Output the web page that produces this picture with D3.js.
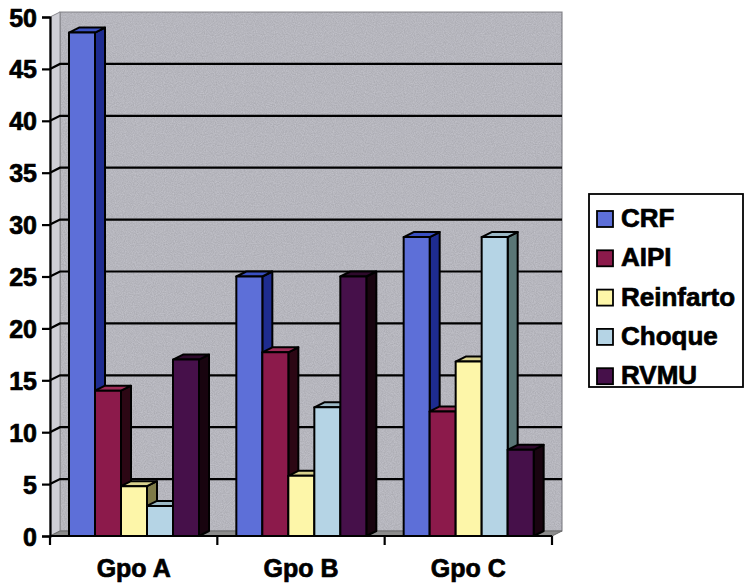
<!DOCTYPE html>
<html>
<head>
<meta charset="utf-8">
<script src="https://cdn.jsdelivr.net/npm/d3@7"></script>
<style>
  html, body { margin: 0; padding: 0; background: #ffffff; }
  svg { display: block; }
  text { font-family: "Liberation Sans", Arial, sans-serif; font-weight: bold; fill: #000; stroke: #000; stroke-width: 0.7px; }
</style>
</head>
<body>
<svg id="chart" width="746" height="586"></svg>
<script>
// Groups, series and values (percent)
const groups = ["Gpo A", "Gpo B", "Gpo C"];
const series = ["CRF", "AIPI", "Reinfarto", "Choque", "RVMU"];
const crf       = [48.5, 25, 28.8];
const aipi      = [14, 17.7, 12];
const reinfarto = [4.8, 5.8, 16.8];
const choque    = [2.9, 12.4, 28.8];
const rvmu      = [17, 25, 8.3];
const yTicks = [0, 5, 10, 15, 20, 25, 30, 35, 40, 45, 50];

const seriesValues = [crf, aipi, reinfarto, choque, rvmu];

// Face colours for each series: front, side, top
const palette = [
  { front: "#5d6fd8", side: "#1e2c90", top: "#3a50c2" },
  { front: "#8c1a4b", side: "#2c0714", top: "#9e2c58" },
  { front: "#fdf6a9", side: "#7e7a48", top: "#d9d28e" },
  { front: "#b5d4e5", side: "#5a7676", top: "#9cb9c6" },
  { front: "#46104a", side: "#18040f", top: "#2e0a2c" }
];

const svg = d3.select("#chart");

// Plot frame (front plane) and depth offset of the 3D box
const x0L = 50, x0R = 552, yBase = 536, yTop = 17;
const DX = 10, DY = -5;

const y = d3.scaleLinear().domain([0, 50]).range([yBase, yTop]);
const xg = d3.scaleBand().domain(groups).range([x0L, x0R]).paddingInner(0).paddingOuter(0);
const xs = d3.scaleBand().domain(series).range([19, 19 + 130]).paddingInner(0);

const line = d3.line();
const poly = pts => line(pts) + "Z";

// Grain texture used on the walls
const defs = svg.append("defs");
const grain = defs.append("filter").attr("id", "grain").attr("x", 0).attr("y", 0).attr("width", "100%").attr("height", "100%");
grain.append("feTurbulence").attr("type", "fractalNoise").attr("baseFrequency", 0.9).attr("numOctaves", 2).attr("seed", 3).attr("result", "n");
grain.append("feColorMatrix").attr("in", "n").attr("type", "matrix")
  .attr("values", "0 0 0 0 0  0 0 0 0 0  0 0 0 0 0  0 0 0 0.16 0");
grain.append("feComposite").attr("in2", "SourceGraphic").attr("operator", "in");

// Back wall
const backWall = poly([[x0L + DX, y(50) + DY], [x0R + DX, y(50) + DY], [x0R + DX, yBase + DY], [x0L + DX, yBase + DY]]);
svg.append("path").attr("d", backWall).attr("fill", "#c6c6ce").attr("stroke", "#8a8a90").attr("stroke-width", 1.2);
svg.append("path").attr("d", backWall).attr("fill", "#000").attr("filter", "url(#grain)");

// Left side wall
const sideWall = poly([[x0L, y(50)], [x0L + DX, y(50) + DY], [x0L + DX, yBase + DY], [x0L, yBase]]);
svg.append("path").attr("d", sideWall).attr("fill", "#cfcfd6").attr("stroke", "#8a8a90").attr("stroke-width", 1);

// Floor
svg.append("path")
  .attr("d", poly([[x0L, yBase], [x0R, yBase], [x0R + DX, yBase + DY], [x0L + DX, yBase + DY]]))
  .attr("fill", "#8c8c8c").attr("stroke", "#6a6a6a").attr("stroke-width", 1);

// Gridlines on the back and side walls
const gridVals = yTicks.filter(v => v > 0 && v < 50);
svg.append("g").selectAll("path").data(gridVals).join("path")
  .attr("d", v => line([[x0L, y(v)], [x0L + DX, y(v) + DY], [x0R + DX, y(v) + DY]]))
  .attr("fill", "none").attr("stroke", "#000").attr("stroke-width", 2.2);

// Bars, drawn left to right so each front face covers its neighbour's side
const bars = [];
groups.forEach((g, gi) => {
  series.forEach((s, si) => {
    bars.push({ g, s, si, v: seriesValues[si][gi] });
  });
});

const barG = svg.append("g");
bars.forEach(b => {
  const x = xg(b.g) + xs(b.s);
  const w = xs.bandwidth();
  const t = y(b.v);
  const c = palette[b.si];
  const gb = barG.append("g").attr("stroke", "#000").attr("stroke-width", 2).attr("stroke-linejoin", "round");
  gb.append("path").attr("d", poly([[x + w, t], [x + w + DX, t + DY], [x + w + DX, yBase + DY], [x + w, yBase]])).attr("fill", c.side);
  gb.append("path").attr("d", poly([[x, t], [x + w, t], [x + w + DX, t + DY], [x + DX, t + DY]])).attr("fill", c.top);
  gb.append("path").attr("d", poly([[x, t], [x + w, t], [x + w, yBase], [x, yBase]])).attr("fill", c.front);
});

// Value axis
const yAxis = d3.axisLeft(y).tickValues(yTicks).tickSize(8).tickPadding(5);
const ya = svg.append("g").attr("transform", `translate(${x0L},0)`).call(yAxis);
ya.attr("font-family", null).attr("font-size", null);
ya.select(".domain").attr("stroke", "#000").attr("stroke-width", 2.2);
ya.selectAll(".tick line").attr("stroke", "#000").attr("stroke-width", 2.2);
ya.selectAll(".tick text").attr("font-size", 25).attr("fill", "#000").attr("dy", "0.36em");

// Category axis
const xa = svg.append("g").attr("transform", `translate(0,${yBase})`);
xa.append("path").attr("d", line([[x0L, 0], [x0R, 0]])).attr("stroke", "#000").attr("stroke-width", 2.2);
const bounds = [x0L].concat(groups.map(g => xg(g) + xg.bandwidth()));
xa.selectAll("line.tk").data(bounds).join("line").attr("class", "tk")
  .attr("x1", d => d).attr("x2", d => d).attr("y1", 0).attr("y2", 9)
  .attr("stroke", "#000").attr("stroke-width", 2.2);
xa.selectAll("text").data(groups).join("text")
  .attr("x", g => xg(g) + xg.bandwidth() / 2).attr("y", 41)
  .attr("text-anchor", "middle").attr("font-size", 25)
  .text(g => g);

// Legend
const lg = svg.append("g");
lg.append("rect").attr("x", 589).attr("y", 194).attr("width", 154).attr("height", 193)
  .attr("fill", "#fff").attr("stroke", "#000").attr("stroke-width", 1.8);
const items = lg.selectAll("g.item").data(series).join("g").attr("class", "item")
  .attr("transform", (d, i) => `translate(597,${227 + i * 39.3})`);
items.append("rect").attr("x", 0).attr("y", -16).attr("width", 16).attr("height", 16)
  .attr("fill", (d, i) => palette[i].front).attr("stroke", "#000").attr("stroke-width", 1.8);
items.append("text").attr("x", 24).attr("y", 0).attr("font-size", 26).text(d => d);
</script>
</body>
</html>
